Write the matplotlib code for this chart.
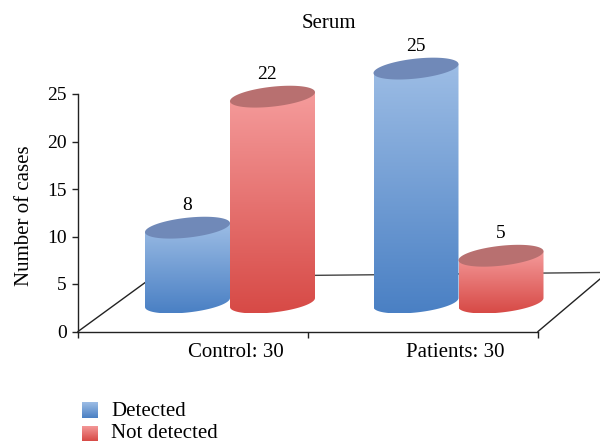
import numpy as np
import matplotlib
matplotlib.use("Agg")
import matplotlib.pyplot as plt
from matplotlib.colors import LinearSegmentedColormap
from matplotlib.patches import PathPatch, Polygon
from matplotlib.path import Path

CATEGORIES = ["Control: 30", "Patients: 30"]
DETECTED = [8, 25]
NOT_DETECTED = [22, 5]
Y_TICKS = [0, 5, 10, 15, 20, 25]

W, H = 600, 442
# where the drawn axis lines sit, in pixels
AX_LEFT, AX_RIGHT, AX_BOTTOM, AX_TOP = 78, 538, 331.5, 94
X_UNIT = (AX_RIGHT - AX_LEFT) / 2
Y_UNIT = (AX_BOTTOM - AX_TOP) / Y_TICKS[-1]

BLUE = ("#9dbde5", "#4a80c4", "#7089b8")
RED = ("#f59c9c", "#d74a46", "#b87070")

plt.rcParams["font.family"] = ["Liberation Serif", "DejaVu Serif"]

# cylinder look, y parts in data units
BASE = 3.05
DEPTH_SCALE = 0.985  # the back plane of the 3D box is a bit smaller than the axis
RIM_TILT = 0.47
RIM_OPEN = 1.05
RIM_DROP = np.hypot(RIM_TILT, RIM_OPEN)


def cylinder(ax, x_left, x_right, value, colors, z):
    cx = (x_left + x_right) / 2
    half = (x_right - x_left) / 2
    top = BASE + value * DEPTH_SCALE

    # lower rim runs left to right, top edge comes back straight (the cap hides it)
    th = np.linspace(np.pi, 2 * np.pi, 60)
    low_x = cx + half * np.cos(th)
    low_y = BASE + RIM_OPEN * np.sin(th) + RIM_TILT * np.cos(th)
    verts = list(zip(low_x, low_y)) + [(x_right, top + RIM_TILT), (x_left, top - RIM_TILT)]
    poly = PathPatch(Path(verts + [verts[0]], closed=True), fc="none", ec="none", zorder=z)
    ax.add_patch(poly)

    cmap = LinearSegmentedColormap.from_list("c", [colors[0], colors[1]])
    grad = np.linspace(0, 1, 128).reshape(-1, 1)
    im = ax.imshow(grad, cmap=cmap, aspect="auto", origin="upper", zorder=z,
                   extent=(x_left, x_right, BASE - RIM_DROP, top + RIM_TILT),
                   interpolation="bilinear")
    im.set_clip_path(poly)

    th = np.linspace(0, 2 * np.pi, 120)
    cap_x = cx + half * np.cos(th)
    cap_y = top + RIM_OPEN * np.sin(th) + RIM_TILT * np.cos(th)
    ax.add_patch(Polygon(np.column_stack([cap_x, cap_y]), fc=colors[2], ec="none",
                         zorder=z + 0.1, clip_on=False))
    return cx, top


fig = plt.figure(figsize=(W / 100, H / 100), dpi=100)
# axes run up to the figure edges so the tall cylinder is not cut off by the image clip
ax = fig.add_axes([AX_LEFT / W, 1 - AX_BOTTOM / H, (W - AX_LEFT) / W, AX_BOTTOM / H])
ax.set_autoscale_on(False)
ax.set_xlim(0, (W - AX_LEFT) / X_UNIT)
ax.set_ylim(0, AX_BOTTOM / Y_UNIT)
ax.patch.set_visible(False)

for s in ["top", "right"]:
    ax.spines[s].set_visible(False)
for s in ["left", "bottom"]:
    ax.spines[s].set_linewidth(1.0)
    ax.spines[s].set_color("#222222")
ax.spines["left"].set_bounds(0, Y_TICKS[-1])
ax.spines["bottom"].set_bounds(0, 2)
ax.set_yticks(Y_TICKS)
ax.set_xticks([0, 1, 2])
ax.set_xticklabels([])
ax.tick_params(axis="x", direction="out", length=4, width=1, color="#222222")
ax.tick_params(axis="y", direction="out", length=4, width=1, color="#222222", pad=4, labelsize=14)
fig.text(25 / W, 1 - 216 / H, "Number of cases", rotation=90, ha="center", va="center", fontsize=15)


def to_data(px, py):
    return (px - AX_LEFT) / X_UNIT, (AX_BOTTOM - py) / Y_UNIT


# floor of the 3D box
for a, b, col in [((78, 331.5), (150, 279), "#222222"),
                  ((538, 331.5), (600, 279), "#222222"),
                  ((150, 277), (600, 272.5), "#444444")]:
    p, q = to_data(*a), to_data(*b)
    ax.plot([p[0], q[0]], [p[1], q[1]], color=col, lw=1.0, clip_on=False, zorder=1)

for cat, x_px in zip(CATEGORIES, [236, 455]):
    fig.text(x_px / W, 1 - 352.5 / H, cat, ha="center", va="center", fontsize=15)

bar_w = 85 / X_UNIT
centres = [to_data(230, 0)[0], to_data(458.5, 0)[0]]
nudge = {(0, 1): -6}
for i in range(len(CATEGORIES)):
    c = centres[i]
    for j, (val, colors) in enumerate([(DETECTED[i], BLUE), (NOT_DETECTED[i], RED)]):
        x_l = c - bar_w + j * bar_w
        cx, top = cylinder(ax, x_l, x_l + bar_w, val, colors, 3 + j + i * 2)
        ax.annotate(str(val), xy=(cx, top), xytext=(nudge.get((i, j), 0), 22.5), textcoords="offset pixels",
                    ha="center", va="center", fontsize=14, zorder=10, annotation_clip=False)

fig.text(329 / W, 1 - 24 / H, "Serum", ha="center", va="center", fontsize=15)

# legend, last text sits just above the bottom edge
for y_px, base_px, colors, label in [(410, 416, BLUE, "Detected"), (433.5, 437.5, RED, "Not detected")]:
    lax = fig.add_axes([82 / W, 1 - (y_px + 8) / H, 16 / W, 16 / H])
    cmap = LinearSegmentedColormap.from_list("l", [colors[0], colors[1]])
    lax.imshow(np.linspace(0, 1, 64).reshape(-1, 1), cmap=cmap, aspect="auto")
    lax.axis("off")
    fig.text(111 / W, 1 - base_px / H, label, ha="left", va="baseline", fontsize=15)

fig.savefig("out.png", dpi=100)
